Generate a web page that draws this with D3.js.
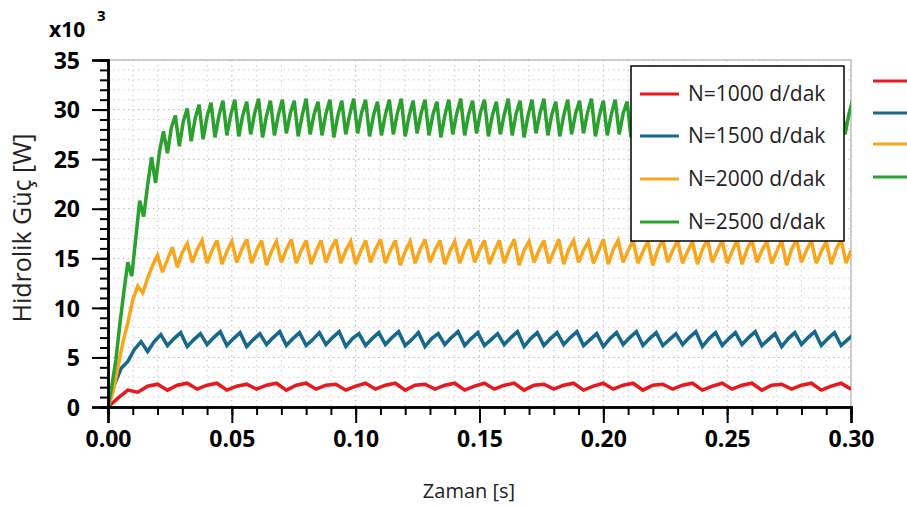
<!DOCTYPE html>
<html>
<head>
<meta charset="utf-8">
<script src="https://cdn.jsdelivr.net/npm/d3@7"></script>
<style>
  body { margin: 0; background: #fff; }
  svg { display: block; font-family: "Open Sans", sans-serif; }
</style>
</head>
<body>
<svg></svg>
<script>
// series labels and colours
var seriesNames = ["N=1000 d/dak", "N=1500 d/dak", "N=2000 d/dak", "N=2500 d/dak"];
var seriesColors = ["#e8191e", "#16698c", "#f9a61c", "#2aa02e"];

// sample step [s] of each series (one tooth = 3 samples)
var seriesStep = [0.004, 0.008 / 3, 0.002, 0.0016];

// hydraulic power x10^3 W
var red = [0, 0.9, 1.7, 1.5, 2.1, 2.3,
  1.7,2.2,2.4, 1.8,2.2,2.4, 1.7,2.1,2.3, 1.8,2.2,2.4, 1.7,2.2,2.4, 1.8,2.2,2.3,
  1.7,2.1,2.4, 1.8,2.2,2.4, 1.7,2.2,2.3, 1.8,2.2,2.4, 1.7,2.1,2.4, 1.8,2.2,2.4,
  1.7,2.2,2.3, 1.8,2.2,2.4, 1.7,2.1,2.4, 1.8,2.2,2.4, 1.7,2.2,2.3, 1.8,2.2,2.4,
  1.7,2.1,2.4, 1.8,2.2,2.4, 1.7,2.2,2.3, 1.8,2.2,2.4, 1.7,2.1,2.4, 1.8];

var blue = [0, 2.3, 3.9, 4.6, 5.8, 6.6, 5.6, 6.6, 7.3,
  6.2,6.9,7.5, 6.1,6.8,7.4, 6.3,7.0,7.6, 6.2,6.9,7.5, 6.1,6.8,7.4, 6.3,7.0,7.6,
  6.2,6.9,7.5, 6.2,6.8,7.5, 6.3,7.0,7.6, 6.1,6.9,7.4, 6.2,6.9,7.5, 6.3,7.0,7.6,
  6.2,6.8,7.5, 6.1,6.9,7.4, 6.3,7.0,7.6, 6.2,6.9,7.5, 6.2,6.8,7.4, 6.3,7.0,7.6,
  6.1,6.9,7.5, 6.2,6.9,7.5, 6.3,7.0,7.6, 6.2,6.8,7.4, 6.1,6.9,7.5, 6.3,7.0,7.6,
  6.2,6.9,7.5, 6.2,6.8,7.4, 6.3,7.0,7.6, 6.1,6.9,7.5, 6.2,6.9,7.5, 6.3,7.0,7.6,
  6.2,6.8,7.4, 6.1,6.9,7.5, 6.3,7.0,7.6, 6.2,6.9,7.5, 6.2,6.8,7.4];

var orange = [0, 1.5, 4.0, 6.5, 8.5, 10.8, 12.2, 11.5, 13.0, 14.3, 15.3, 13.6, 14.9, 16.1,
  14.1, 15.6, 16.5, 14.6, 15.9, 16.8,
  14.5,15.8,16.8, 14.4,15.7,16.7, 14.6,15.9,16.9, 14.5,15.8,16.8, 14.3,15.7,16.7,
  14.6,15.9,16.9, 14.5,15.8,16.8, 14.4,15.7,16.8, 14.6,15.9,16.9, 14.5,15.8,16.7,
  14.4,15.7,16.8, 14.6,15.9,16.9, 14.5,15.8,16.8, 14.3,15.7,16.7, 14.5,15.9,16.9,
  14.6,15.8,16.8, 14.4,15.7,16.7, 14.5,15.9,16.9, 14.6,15.8,16.8, 14.4,15.7,16.8,
  14.5,15.9,16.9, 14.3,15.8,16.7, 14.6,15.8,16.8, 14.5,15.7,16.9, 14.4,15.9,16.8,
  14.6,15.8,16.7, 14.5,15.7,16.9, 14.4,15.9,16.8, 14.6,15.8,16.8, 14.5,15.7,16.7,
  14.3,15.9,16.9, 14.6,15.8,16.8, 14.5,15.7,16.7, 14.4,15.9,16.9, 14.6,15.8,16.8,
  14.5,15.7,16.8, 14.4,15.9,16.9, 14.6,15.8,16.7, 14.5,15.7,16.8, 14.3,15.9,16.9,
  14.6,15.8,16.8, 14.5,15.7,16.7, 14.4,15.9,16.9, 14.5,15.8];

var green = [0, 2.2, 4.8, 8.4, 11.6, 14.6, 13.2, 17.0, 20.8, 19.2, 22.4, 25.2,
  22.6, 25.8, 27.8, 25.6, 28.2, 29.4, 26.3, 28.8, 30.1, 26.8, 29.1, 30.5,
  27.0,29.3,30.7, 27.2,29.4,30.9, 27.4,29.5,31.0, 27.3,29.4,30.8, 27.5,29.6,31.1,
  27.2,29.4,30.9, 27.4,29.5,31.0, 27.6,29.6,30.9, 27.3,29.4,31.1, 27.5,29.5,30.8,
  27.4,29.6,31.0, 27.2,29.4,30.9, 27.5,29.5,31.1, 27.6,29.7,31.0, 27.3,29.4,30.8,
  27.4,29.5,31.0, 27.5,29.6,31.1, 27.3,29.4,30.9, 27.6,29.6,31.0, 27.4,29.5,30.8,
  27.2,29.4,31.0, 27.5,29.6,31.1, 27.4,29.5,30.9, 27.6,29.7,31.0, 27.3,29.4,30.8,
  27.5,29.5,31.1, 27.4,29.6,30.9, 27.2,29.4,31.0, 27.6,29.6,31.1, 27.4,29.5,30.8,
  27.3,29.4,31.0, 27.5,29.6,30.9, 27.6,29.7,31.1, 27.3,29.4,30.9, 27.4,29.5,31.0,
  27.5,29.6,30.8, 27.2,29.4,31.0, 27.6,29.6,31.1, 27.4,29.5,30.9, 27.3,29.4,31.0,
  27.5,29.6,30.8, 27.4,29.5,31.1, 27.6,29.7,30.9, 27.3,29.4,31.0, 27.5,29.6,31.1,
  27.2,29.4,30.9, 27.4,29.5,31.0, 27.6,29.6,30.8, 27.3,29.4,31.0, 27.5,29.6,31.1,
  27.4,29.5,30.9, 27.2,29.4,31.0, 27.6,29.6,30.8, 27.4,29.5,31.0, 27.5,29.6,31.1];

var seriesValues = [red, blue, orange, green];

// axis ticks
var xTicks = [0, 0.05, 0.10, 0.15, 0.20, 0.25, 0.30];
var yTicks = [0, 5, 10, 15, 20, 25, 30, 35];

var svg = d3.select("svg")
    .attr("width", 907)
    .attr("height", 507);

var plotLeft = 108, plotRight = 851, plotTop = 60, plotBottom = 407;

var x = d3.scaleLinear().domain([0, 0.3]).range([plotLeft, plotRight]);
var y = d3.scaleLinear().domain([0, 35]).range([plotBottom, plotTop]);

var xMinor = d3.range(0, 31).map(function(i) { return i / 100; });
var yMinor = d3.range(0, 36);

// grid
var grid = svg.append("g").attr("class", "grid");
grid.selectAll("line.vx")
    .data(xMinor)
    .enter().append("line")
    .attr("x1", function(d) { return x(d); })
    .attr("x2", function(d) { return x(d); })
    .attr("y1", plotTop).attr("y2", plotBottom)
    .attr("stroke", function(d, i) { return i % 5 == 0 ? "#b4b4b4" : "#cfcfcf"; })
    .attr("stroke-width", 1)
    .attr("stroke-dasharray", "1.5,3.5");
grid.selectAll("line.hy")
    .data(yMinor)
    .enter().append("line")
    .attr("y1", function(d) { return y(d); })
    .attr("y2", function(d) { return y(d); })
    .attr("x1", plotLeft).attr("x2", plotRight)
    .attr("stroke", function(d) { return d % 5 == 0 ? "#b4b4b4" : "#cfcfcf"; })
    .attr("stroke-width", 1)
    .attr("stroke-dasharray", "1.5,3.5");

// top and right frame
svg.append("path")
    .attr("d", "M" + plotLeft + "," + plotTop + "H" + plotRight + "V" + plotBottom)
    .attr("fill", "none")
    .attr("stroke", "#c0c0c0")
    .attr("stroke-width", 1.5);

svg.append("clipPath").attr("id", "clip")
    .append("rect")
    .attr("x", plotLeft).attr("y", plotTop - 2)
    .attr("width", plotRight - plotLeft).attr("height", plotBottom - plotTop + 4);

var line = d3.line()
    .x(function(d) { return x(d[0]); })
    .y(function(d) { return y(d[1]); });

var lines = svg.append("g").attr("clip-path", "url(#clip)");
seriesValues.forEach(function(vals, k) {
    var pts = vals.map(function(v, i) { return [i * seriesStep[k], v]; });
    lines.append("path")
        .datum(pts)
        .attr("d", line)
        .attr("fill", "none")
        .attr("stroke", seriesColors[k])
        .attr("stroke-width", 3.5)
        .attr("stroke-linejoin", "miter")
        .attr("stroke-miterlimit", 3);
});

// axes
var xAxisMinor = svg.append("g")
    .attr("transform", "translate(0," + plotBottom + ")")
    .call(d3.axisBottom(x).tickValues(xMinor).tickSize(8).tickFormat(""));
var xAxis = svg.append("g")
    .attr("transform", "translate(0," + plotBottom + ")")
    .call(d3.axisBottom(x).tickValues(xTicks).tickSize(16).tickPadding(8)
        .tickFormat(d3.format(".2f")));
var yAxisMinor = svg.append("g")
    .attr("transform", "translate(" + plotLeft + ",0)")
    .call(d3.axisLeft(y).tickValues(yMinor).tickSize(8).tickFormat(""));
var yAxis = svg.append("g")
    .attr("transform", "translate(" + plotLeft + ",0)")
    .call(d3.axisLeft(y).tickValues(yTicks).tickSize(16).tickPadding(12));

[xAxisMinor, xAxis, yAxisMinor, yAxis].forEach(function(g) {
    g.select(".domain").attr("stroke", "#000").attr("stroke-width", 2.5);
    g.selectAll(".tick line").attr("stroke", "#000").attr("stroke-width", 2);
    g.selectAll("text")
        .attr("fill", "#000")
        .style("font-family", "'Open Sans', sans-serif")
        .style("font-size", "23px")
        .style("font-weight", "bold");
});
yAxis.selectAll("text").attr("dy", "0.36em");

// exponent label
svg.append("text")
    .attr("x", 49).attr("y", 37)
    .style("font-size", "21px")
    .style("font-weight", "bold")
    .text("x10");
svg.append("text")
    .attr("x", 97).attr("y", 21)
    .style("font-size", "15px")
    .style("font-weight", "bold")
    .text("3");

// axis titles
svg.append("text")
    .attr("transform", "translate(31,228) rotate(-90)")
    .attr("text-anchor", "middle")
    .style("font-size", "25px")
    .attr("fill", "#222")
    .text("Hidrolik Güç [W]");
svg.append("text")
    .attr("x", 469).attr("y", 498)
    .attr("text-anchor", "middle")
    .style("font-size", "20px")
    .attr("fill", "#222")
    .text("Zaman [s]");

// legend
var legend = svg.append("g");
legend.append("rect")
    .attr("x", 631).attr("y", 66)
    .attr("width", 213).attr("height", 175)
    .attr("fill", "#fff")
    .attr("stroke", "#000")
    .attr("stroke-width", 1.5);
var legendY = [94, 136, 179, 222];
seriesNames.forEach(function(name, k) {
    legend.append("line")
        .attr("x1", 640).attr("x2", 679)
        .attr("y1", legendY[k]).attr("y2", legendY[k])
        .attr("stroke", seriesColors[k])
        .attr("stroke-width", 3);
    legend.append("text")
        .attr("x", 688).attr("y", legendY[k])
        .attr("dy", "0.35em")
        .style("font-size", "21px")
        .attr("fill", "#222")
        .text(name);
});

// second (clipped) legend at right edge
var legend2Y = [81, 113, 144, 177];
seriesNames.forEach(function(name, k) {
    svg.append("line")
        .attr("x1", 873).attr("x2", 912)
        .attr("y1", legend2Y[k]).attr("y2", legend2Y[k])
        .attr("stroke", seriesColors[k])
        .attr("stroke-width", 3);
});
</script>
</body>
</html>
